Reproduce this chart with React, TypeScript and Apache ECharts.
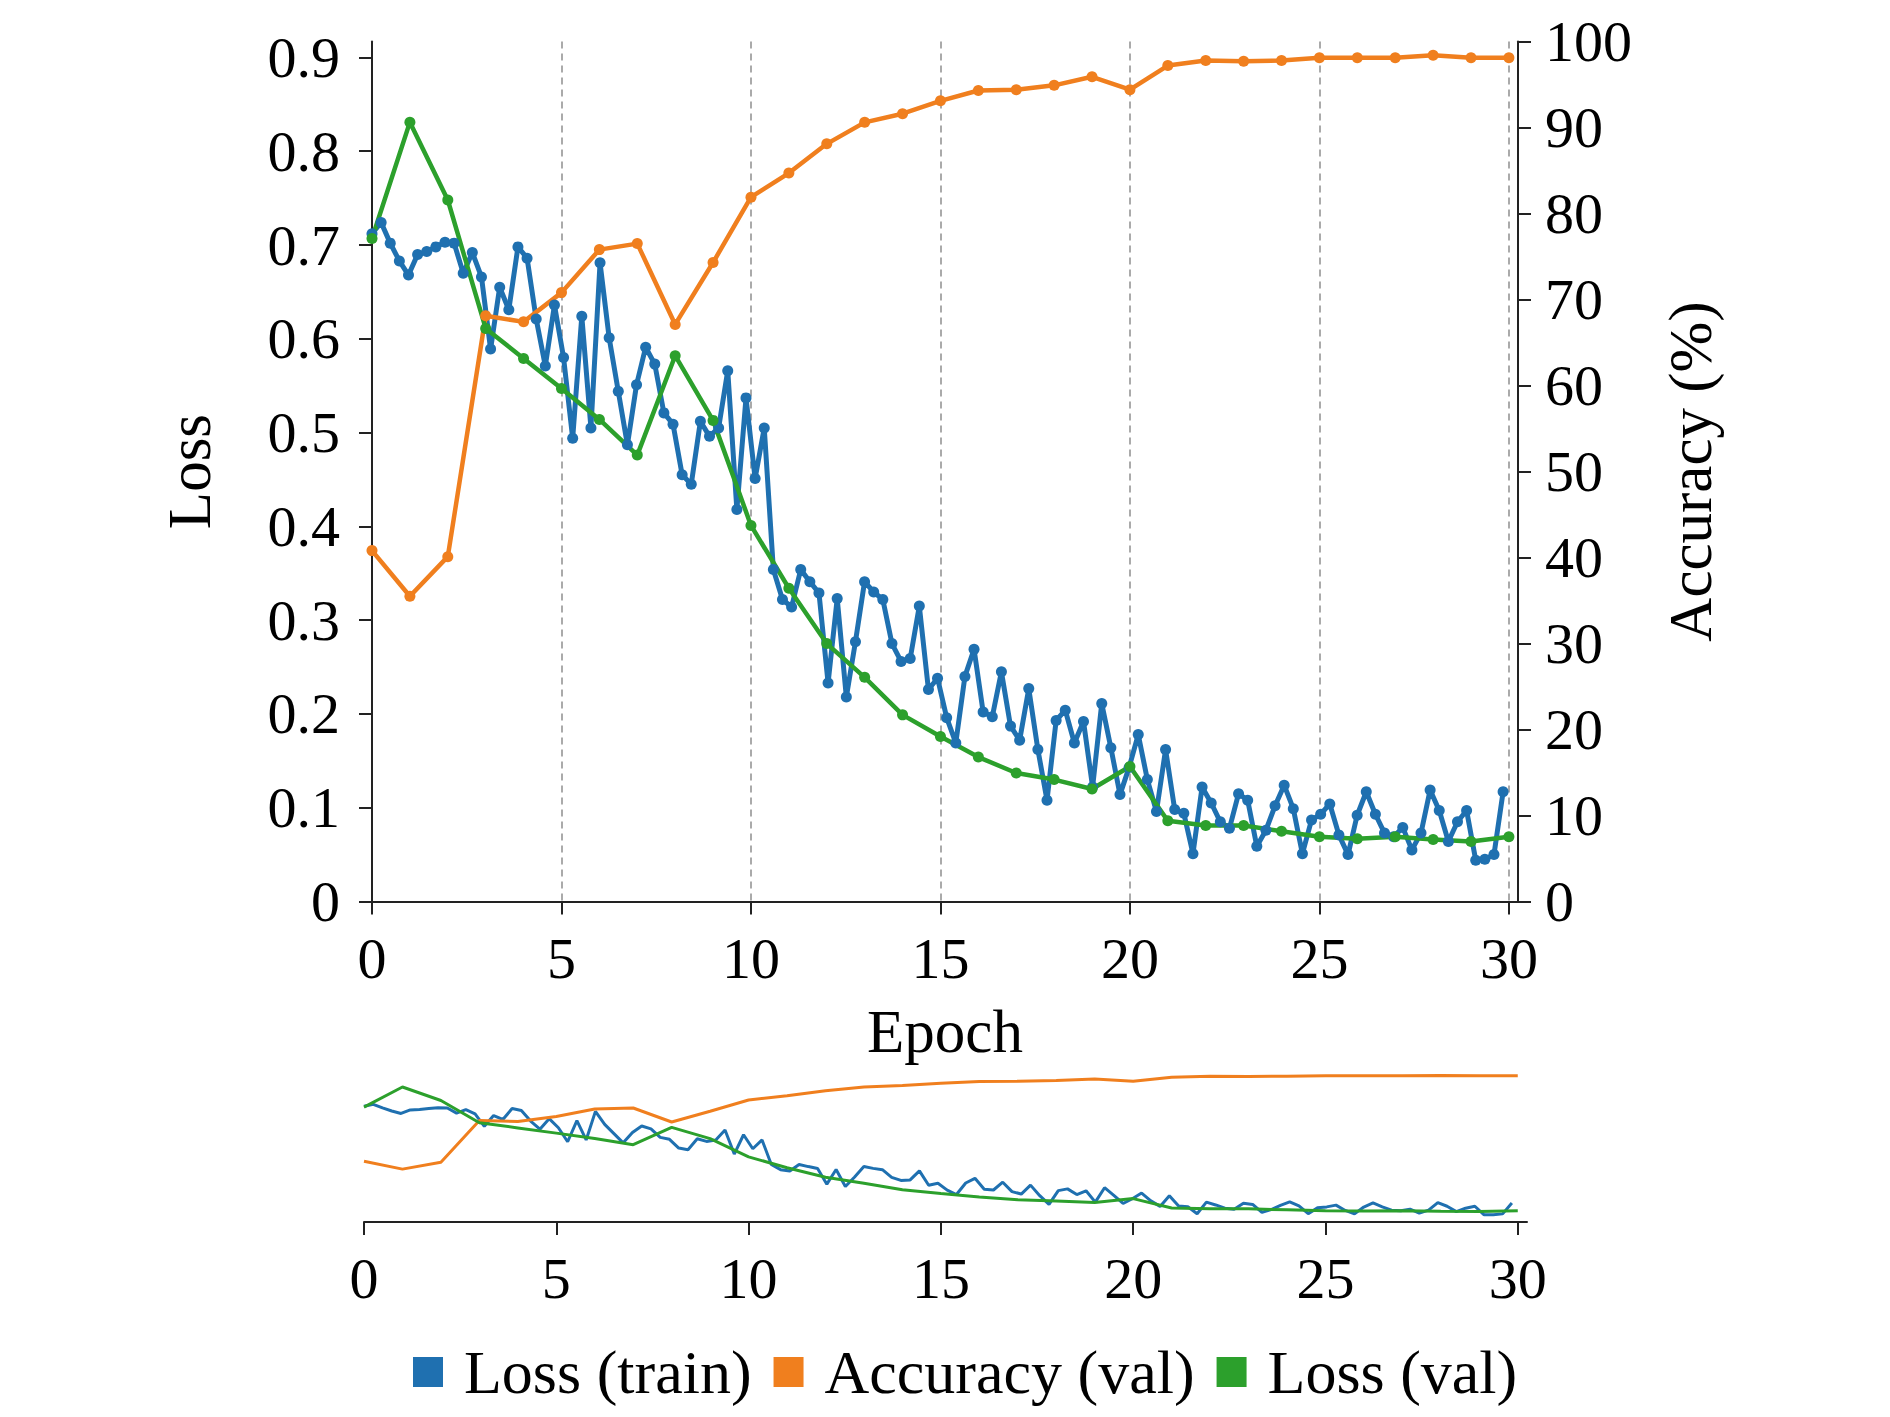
import React, { useEffect, useRef } from 'react';
import * as echarts from 'echarts';

// epochs of the validation runs
const epochs = [
  0, 1, 2, 3, 4, 5, 6, 7, 8, 9, 10, 11, 12, 13, 14, 15,
  16, 17, 18, 19, 20, 21, 22, 23, 24, 25, 26, 27, 28, 29, 30,
];

// training loss is logged about 4 times per epoch
const trainStep = 0.2407;
const trainLoss = [
  0.712, 0.724, 0.702, 0.683, 0.668, 0.69, 0.693, 0.698, 0.703, 0.702,
  0.67, 0.692, 0.666, 0.589, 0.655, 0.631, 0.698, 0.686, 0.621, 0.571,
  0.636, 0.58, 0.494, 0.624, 0.505, 0.681, 0.601, 0.544, 0.487, 0.551,
  0.591, 0.573, 0.521, 0.509, 0.455, 0.445, 0.512, 0.496, 0.505, 0.566,
  0.418, 0.537, 0.451, 0.505, 0.354, 0.322, 0.314, 0.354, 0.341, 0.329,
  0.233, 0.323, 0.218, 0.277, 0.341, 0.33, 0.322, 0.275, 0.256, 0.259,
  0.315, 0.226, 0.238, 0.196, 0.169, 0.24, 0.269, 0.202, 0.197, 0.245,
  0.187, 0.172, 0.227, 0.162, 0.108, 0.193, 0.204, 0.169, 0.192, 0.122,
  0.211, 0.164, 0.114, 0.143, 0.178, 0.13, 0.096, 0.162, 0.098, 0.094,
  0.051, 0.122, 0.105, 0.085, 0.078, 0.115, 0.108, 0.059, 0.076, 0.102,
  0.124, 0.099, 0.051, 0.087, 0.093, 0.104, 0.071, 0.05, 0.092, 0.117,
  0.093, 0.073, 0.069, 0.079, 0.055, 0.073, 0.119, 0.097, 0.064, 0.085,
  0.097, 0.044, 0.045, 0.05, 0.117,
];

const valAccuracy = [
  40.8, 35.5, 40.1, 68.1, 67.4, 70.8, 75.8, 76.5, 67.1, 74.3, 81.9,
  84.7, 88.1, 90.6, 91.6, 93.1, 94.3, 94.4, 94.9, 95.9, 94.4,
  97.2, 97.8, 97.7, 97.8, 98.1, 98.1, 98.1, 98.4, 98.1, 98.1,
];

const valLoss = [
  0.707, 0.831, 0.748, 0.611, 0.579, 0.547, 0.514, 0.476, 0.582, 0.513, 0.401,
  0.334, 0.275, 0.239, 0.199, 0.176, 0.154, 0.137, 0.13, 0.12, 0.144,
  0.086, 0.081, 0.081, 0.075, 0.069, 0.067, 0.069, 0.066, 0.064, 0.069,
];

const lossTicks = { min: 0, max: 0.917, interval: 0.1 };
const accTicks = { min: 0, max: 100, interval: 10 };
const epochRange = { min: 0, max: 30.24, interval: 5 };

const BLUE = '#1f70b0';
const ORANGE = '#f07f1e';
const GREEN = '#2ca02c';
const FONT = "'Liberation Serif', 'Times New Roman', serif";

const App: React.FC = () => {
  const chartRef = useRef<HTMLDivElement>(null);

  useEffect(() => {
    if (!chartRef.current) return;
    const chart = echarts.init(chartRef.current, null, { renderer: 'svg' });

    const trainData = trainLoss.map((v, i) => [i * trainStep, v]);
    const accData = valAccuracy.map((v, i) => [epochs[i], v]);
    const valData = valLoss.map((v, i) => [epochs[i], v]);

    const axisLine = { show: true, lineStyle: { color: '#222', width: 2 } };
    const axisTick = { show: true, inside: false, length: 13, lineStyle: { color: '#222', width: 2 } };

    const option: any = {
      animation: false,
      textStyle: { fontFamily: FONT, color: '#000' },
      grid: [
        { left: 372, top: 41.5, width: 1146, height: 860, containLabel: false, outerBoundsMode: 'none' },
        { left: 364, top: 1073, width: 1163, height: 149, containLabel: false, outerBoundsMode: 'none' },
      ],
      legend: {
        data: ['Loss (train)', 'Accuracy (val)', 'Loss (val)'],
        left: 408,
        top: 1336,
        icon: 'rect',
        itemWidth: 30,
        itemHeight: 30,
        itemGap: 22,
        textStyle: { fontFamily: FONT, fontSize: 62, color: '#000', padding: [0, 0, 0, 16] },
      },
      xAxis: [
        {
          gridIndex: 0,
          type: 'value',
          ...epochRange,
          name: 'Epoch',
          nameLocation: 'middle',
          nameGap: 99,
          nameTextStyle: { fontFamily: FONT, fontSize: 61, color: '#000' },
          axisLine,
          axisTick,
          axisLabel: { fontSize: 58, color: '#000', margin: 28, showMaxLabel: false, fontFamily: FONT },
          splitLine: { show: true, lineStyle: { color: '#aaa', width: 2, type: [7, 5] } },
        },
        {
          gridIndex: 1,
          type: 'value',
          ...epochRange,
          axisLine,
          axisTick,
          axisLabel: { fontSize: 58, color: '#000', margin: 27, showMaxLabel: false, fontFamily: FONT },
          splitLine: { show: false },
        },
      ],
      yAxis: [
        {
          gridIndex: 0,
          type: 'value',
          position: 'left',
          ...lossTicks,
          name: 'Loss',
          nameLocation: 'middle',
          nameRotate: 90,
          nameGap: 152,
          nameTextStyle: { fontFamily: FONT, fontSize: 61, color: '#000' },
          axisLine,
          axisTick,
          axisLabel: { fontSize: 58, color: '#000', margin: 32, showMaxLabel: false, fontFamily: FONT },
          splitLine: { show: false },
        },
        {
          gridIndex: 0,
          type: 'value',
          position: 'right',
          ...accTicks,
          name: 'Accuracy (%)',
          nameLocation: 'middle',
          nameRotate: 90,
          nameGap: 142,
          nameTextStyle: { fontFamily: FONT, fontSize: 61, color: '#000' },
          axisLine,
          axisTick,
          axisLabel: { fontSize: 58, color: '#000', margin: 27, fontFamily: FONT },
          splitLine: { show: false },
        },
        { gridIndex: 1, type: 'value', ...lossTicks, show: false, splitLine: { show: false } },
        { gridIndex: 1, type: 'value', ...accTicks, show: false, splitLine: { show: false } },
      ],
      series: [
        {
          name: 'Loss (train)', type: 'line', xAxisIndex: 0, yAxisIndex: 0, data: trainData,
          symbol: 'circle', symbolSize: 11, showAllSymbol: true,
          lineStyle: { color: BLUE, width: 5 }, itemStyle: { color: BLUE },
        },
        {
          name: 'Accuracy (val)', type: 'line', xAxisIndex: 0, yAxisIndex: 1, data: accData,
          symbol: 'circle', symbolSize: 11,
          lineStyle: { color: ORANGE, width: 4.5 }, itemStyle: { color: ORANGE },
        },
        {
          name: 'Loss (val)', type: 'line', xAxisIndex: 0, yAxisIndex: 0, data: valData,
          symbol: 'circle', symbolSize: 11,
          lineStyle: { color: GREEN, width: 4.5 }, itemStyle: { color: GREEN },
        },
        {
          name: 'Loss (train)', type: 'line', xAxisIndex: 1, yAxisIndex: 2, data: trainData,
          showSymbol: false, lineStyle: { color: BLUE, width: 3 }, itemStyle: { color: BLUE },
        },
        {
          name: 'Accuracy (val)', type: 'line', xAxisIndex: 1, yAxisIndex: 3, data: accData,
          showSymbol: false, lineStyle: { color: ORANGE, width: 3 }, itemStyle: { color: ORANGE },
        },
        {
          name: 'Loss (val)', type: 'line', xAxisIndex: 1, yAxisIndex: 2, data: valData,
          showSymbol: false, lineStyle: { color: GREEN, width: 3 }, itemStyle: { color: GREEN },
        },
      ],
    };

    chart.setOption(option);
    const resize = () => chart.resize();
    window.addEventListener('resize', resize);

    return () => {
      window.removeEventListener('resize', resize);
      chart.dispose();
    };
  }, []);

  return (
    <div
      ref={chartRef}
      style={{ position: 'absolute', left: 0, top: 0, width: '1890px', height: '1417px', background: '#fff' }}
    />
  );
};

export default App;
